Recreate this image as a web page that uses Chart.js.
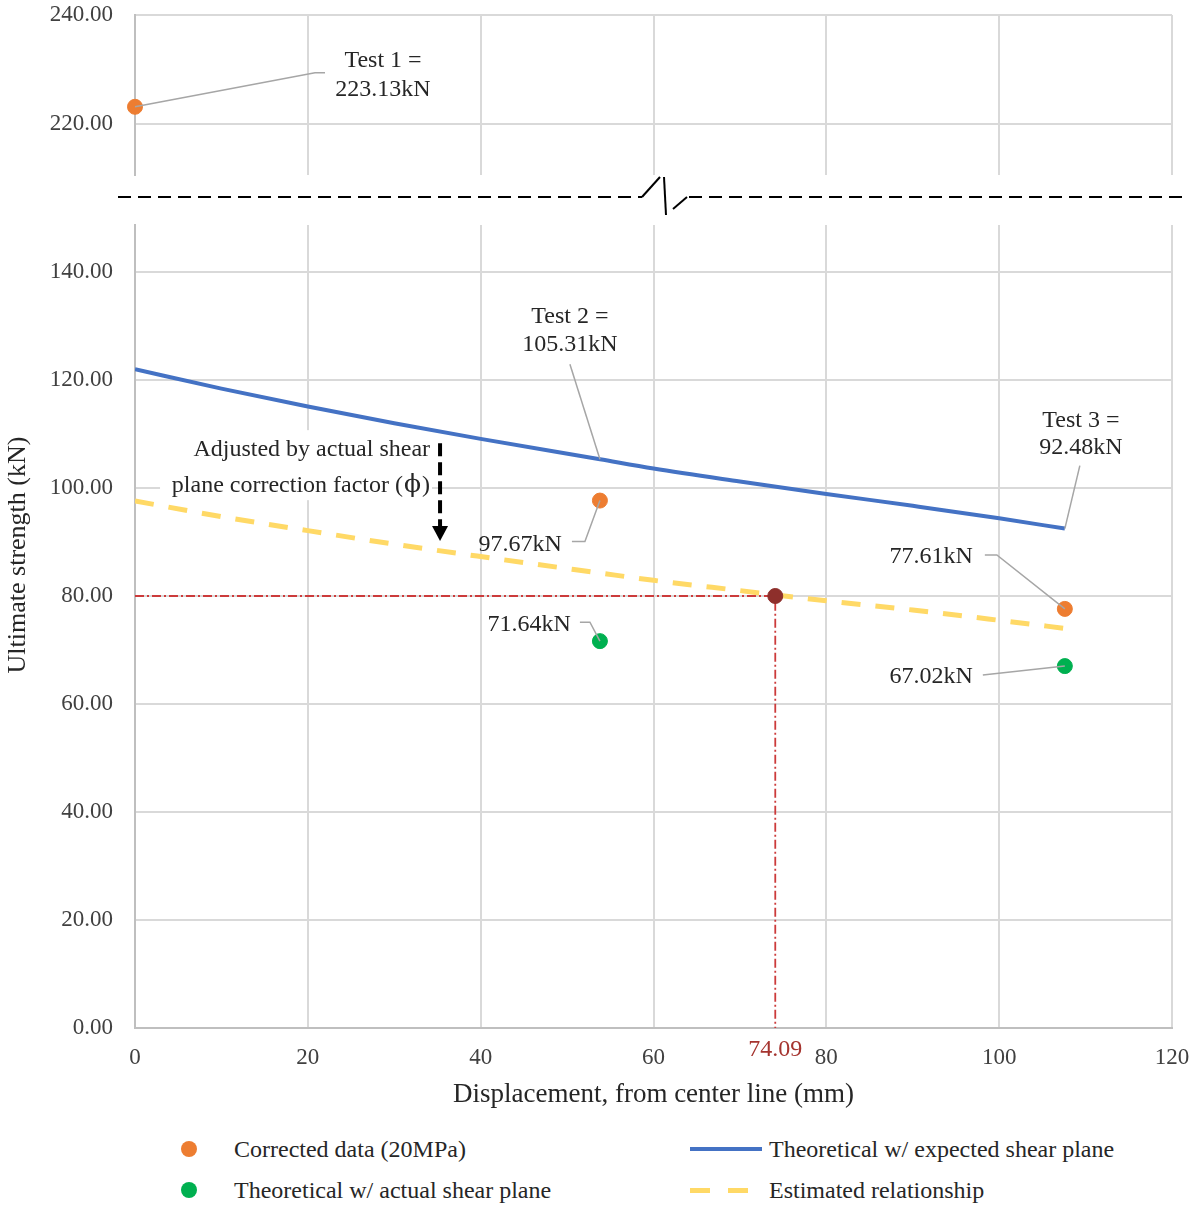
<!DOCTYPE html>
<html>
<head>
<meta charset="utf-8">
<script src="https://cdn.jsdelivr.net/npm/chart.js@4.4.1/dist/chart.umd.min.js"></script>
<style>
  body { margin: 0; background: #fff; width: 1192px; height: 1207px; position: relative; overflow: hidden; font-family: "Liberation Serif", "Times New Roman", serif; }
  canvas { position: absolute; left: 0; }
  #topChart { top: 0; }
  #bottomChart { top: 200px; }
  .leg { position: absolute; font-size: 24px; line-height: 28px; color: #262626; white-space: nowrap; }
  .dot { position: absolute; width: 16px; height: 16px; border-radius: 50%; }
  .bar { position: absolute; }
</style>
</head>
<body>
<canvas id="topChart" width="1192" height="220"></canvas>
<canvas id="bottomChart" width="1192" height="920"></canvas>

<div class="dot" style="left:181px;top:1141px;background:#ED7D31"></div>
<div class="leg" style="left:234px;top:1135px">Corrected data (20MPa)</div>
<div class="dot" style="left:181px;top:1182px;background:#00B050"></div>
<div class="leg" style="left:234px;top:1176px">Theoretical w/ actual shear plane</div>
<div class="bar" style="left:690px;top:1147px;width:72px;height:4px;background:#4472C4"></div>
<div class="leg" style="left:769px;top:1135px">Theoretical w/ expected shear plane</div>
<div class="bar" style="left:690px;top:1188px;width:20px;height:5px;background:#FFD966"></div>
<div class="bar" style="left:728px;top:1188px;width:20px;height:5px;background:#FFD966"></div>
<div class="leg" style="left:769px;top:1176px">Estimated relationship</div>

<script>
// data
const correctedX = [0, 53.8, 107.6];
const correctedY = [223.13, 97.67, 77.61];
const actualX = [53.8, 107.6];
const actualY = [71.64, 67.02];
const curveX = [0, 10, 20, 30, 40, 53.8, 60, 70, 80, 90, 100, 107.6];
const expectedY = [122.0, 118.4, 115.1, 112.0, 109.1, 105.31, 103.6, 101.2, 98.9, 96.7, 94.4, 92.48];
const estimatedY = [97.6, 94.7, 92.1, 89.6, 87.3, 84.25, 82.9, 81.0, 79.1, 77.4, 75.5, 74.0];
const targetX = 74.09;
const targetY = 80;
const xTicks = [0, 20, 40, 60, 80, 100, 120];
const yTicksLower = [0, 20, 40, 60, 80, 100, 120, 140];
const yTicksUpper = [220, 240];

const ORANGE = '#ED7D31', GREEN = '#00B050', BLUE = '#4472C4', YELLOW = '#FFD966';
const DARKRED = '#8E2F2B', RED = '#CC3B3B', GRID = '#D9D9D9', AXIS = '#BFBFBF';
const SERIF = '"Liberation Serif", "Times New Roman", serif';
const TEXT = '#262626';

const pts = (xs, ys) => xs.map((x, i) => ({ x: x, y: ys[i] }));
const kN = v => v.toFixed(2) + 'kN';

function makeDatasets() {
  return [
    { data: pts(correctedX, correctedY), backgroundColor: ORANGE, borderColor: ORANGE, pointRadius: 7.5, showLine: false, clip: 12, order: 0 },
    { data: pts(actualX, actualY), backgroundColor: GREEN, borderColor: GREEN, pointRadius: 7.5, showLine: false, clip: 12, order: 0 },
    { data: [{ x: targetX, y: targetY }], backgroundColor: DARKRED, borderColor: DARKRED, pointRadius: 7.5, showLine: false, order: 0 },
    { data: pts(curveX, estimatedY), showLine: true, borderColor: YELLOW, borderWidth: 5, borderDash: [19, 15], pointRadius: 0, cubicInterpolationMode: 'monotone', order: 2 },
    { data: [{ x: 0, y: targetY }, { x: targetX, y: targetY }, { x: targetX, y: 0 }], showLine: true, borderColor: RED, borderWidth: 1.8, borderDash: [9, 3, 2, 3], pointRadius: 0, order: 3 },
    { data: pts(curveX, expectedY), showLine: true, borderColor: BLUE, borderWidth: 4, pointRadius: 0, cubicInterpolationMode: 'monotone', order: 1 }
  ];
}

// callouts: anchor from data, text and leader as pixel offsets
const callouts = [
  { panel: 'top', x: correctedX[0], y: correctedY[0], lines: ['Test 1 =', kN(correctedY[0])], align: 'center', tx: 248, ty: [-46, -17], leader: [[190, -34], [180, -34], [0, 0]] },
  { panel: 'bottom', x: curveX[5], y: expectedY[5], lines: ['Test 2 =', kN(expectedY[5])], align: 'center', tx: -30, ty: [-143, -115], leader: [[-30, -95], [0, 0]] },
  { panel: 'bottom', x: curveX[11], y: expectedY[11], lines: ['Test 3 =', kN(expectedY[11])], align: 'center', tx: 16, ty: [-108, -81], leader: [[15, -63], [0, 0]] },
  { panel: 'bottom', x: correctedX[1], y: correctedY[1], lines: [kN(correctedY[1])], align: 'right', tx: -38, ty: [44], leader: [[-28, 41], [-15, 41], [0, 0]] },
  { panel: 'bottom', x: actualX[0], y: actualY[0], lines: [kN(actualY[0])], align: 'right', tx: -29, ty: [-16], leader: [[-20, -19], [-10, -19], [0, 0]] },
  { panel: 'bottom', x: correctedX[2], y: correctedY[2], lines: [kN(correctedY[2])], align: 'right', tx: -92, ty: [-52], leader: [[-80, -54], [-68, -54], [0, 0]] },
  { panel: 'bottom', x: actualX[1], y: actualY[1], lines: [kN(actualY[1])], align: 'right', tx: -92, ty: [11], leader: [[-82, 9], [0, 0]] }
];

const calloutPlugin = {
  id: 'callouts',
  afterDatasetsDraw(chart) {
    const ctx = chart.ctx, xs = chart.scales.x, ys = chart.scales.y;
    const panel = chart.canvas.id === 'topChart' ? 'top' : 'bottom';
    ctx.save();
    callouts.filter(c => c.panel === panel).forEach(c => {
      const px = xs.getPixelForValue(c.x), py = ys.getPixelForValue(c.y);
      ctx.strokeStyle = '#A6A6A6';
      ctx.lineWidth = 1.5;
      ctx.beginPath();
      c.leader.forEach((p, i) => i ? ctx.lineTo(px + p[0], py + p[1]) : ctx.moveTo(px + p[0], py + p[1]));
      ctx.stroke();
      ctx.fillStyle = TEXT;
      ctx.font = '24px ' + SERIF;
      ctx.textAlign = c.align;
      ctx.textBaseline = 'middle';
      c.lines.forEach((t, i) => ctx.fillText(t, px + c.tx, py + c.ty[i]));
    });
    ctx.restore();
  }
};

const breakPlugin = {
  id: 'axisBreak',
  afterDraw(chart) {
    const ctx = chart.ctx, y = chart.chartArea.bottom + 22;
    ctx.save();
    ctx.strokeStyle = '#000';
    ctx.lineWidth = 2;
    ctx.setLineDash([13, 7]);
    ctx.beginPath(); ctx.moveTo(118, y); ctx.lineTo(642, y); ctx.stroke();
    ctx.beginPath(); ctx.moveTo(689, y); ctx.lineTo(1185, y); ctx.stroke();
    ctx.setLineDash([]);
    ctx.beginPath(); ctx.moveTo(642, y); ctx.lineTo(660, y - 20); ctx.stroke();
    ctx.beginPath(); ctx.moveTo(664, y - 20); ctx.lineTo(666, y + 18); ctx.stroke();
    ctx.beginPath(); ctx.moveTo(673, y + 12); ctx.lineTo(687, y); ctx.stroke();
    ctx.restore();
  }
};

const notePlugin = {
  id: 'notes',
  beforeDatasetsDraw(chart) {
    const ctx = chart.ctx, xs = chart.scales.x, ys = chart.scales.y;
    const ax = xs.getPixelForValue(35.3), top = ys.getPixelForValue(108.3);
    ctx.save();
    ctx.fillStyle = '#fff';
    ctx.fillRect(ax - 280, top - 13, 272, 70);
    ctx.restore();
  },
  afterDatasetsDraw(chart) {
    const ctx = chart.ctx, xs = chart.scales.x, ys = chart.scales.y, area = chart.chartArea;
    const ax = xs.getPixelForValue(35.3), top = ys.getPixelForValue(108.3), tip = ys.getPixelForValue(90.2);
    ctx.save();
    ctx.fillStyle = TEXT;
    ctx.textBaseline = 'middle';
    ctx.textAlign = 'left';
    // first line right-aligned, second line with a larger phi
    ctx.font = '24px ' + SERIF;
    const l1 = 'Adjusted by actual shear';
    ctx.fillText(l1, ax - 10 - ctx.measureText(l1).width, top + 7);
    const a = 'plane correction factor (', b = '\u03D5', c = ')';
    const wa = ctx.measureText(a).width, wc = ctx.measureText(c).width;
    ctx.font = '25px "DejaVu Serif", serif';
    const wb = ctx.measureText(b).width;
    let x0 = ax - 10 - wa - wb - wc - 2;
    ctx.font = '24px ' + SERIF;
    ctx.fillText(a, x0, top + 43);
    ctx.font = '25px "DejaVu Serif", serif';
    ctx.fillText(b, x0 + wa + 1, top + 42);
    ctx.font = '24px ' + SERIF;
    ctx.fillText(c, x0 + wa + wb + 2, top + 43);

    ctx.strokeStyle = '#000';
    ctx.lineWidth = 4;
    ctx.setLineDash([13, 6]);
    ctx.beginPath(); ctx.moveTo(ax, top); ctx.lineTo(ax, tip - 15); ctx.stroke();
    ctx.setLineDash([]);
    ctx.fillStyle = '#000';
    ctx.beginPath(); ctx.moveTo(ax - 8, tip - 15); ctx.lineTo(ax + 8, tip - 15); ctx.lineTo(ax, tip); ctx.closePath(); ctx.fill();
    // value of the target on the x axis
    ctx.fillStyle = '#A5342F';
    ctx.textAlign = 'center';
    ctx.fillText(targetX.toFixed(2), xs.getPixelForValue(targetX), area.bottom + 22);
    // y axis title
    ctx.fillStyle = TEXT;
    ctx.font = '26px ' + SERIF;
    ctx.translate(18, 355);
    ctx.rotate(-Math.PI / 2);
    ctx.fillText('Ultimate strength (kN)', 0, 0);
    ctx.restore();
  }
};

function yScale(min, max, ticks) {
  return {
    type: 'linear', min: min, max: max,
    afterBuildTicks: s => { s.ticks = ticks.map(v => ({ value: v })); },
    afterFit: s => { s.width = 135; s.paddingTop = 0; s.paddingBottom = 0; },
    ticks: { font: { family: SERIF, size: 23 }, color: '#404040', padding: 22, callback: v => v.toFixed(2) },
    grid: { color: GRID, lineWidth: 2, drawTicks: false },
    border: { color: AXIS, width: 2 }
  };
}

function xScale(showLabels) {
  return {
    type: 'linear', min: 0, max: 120,
    afterBuildTicks: s => { s.ticks = xTicks.map(v => ({ value: v })); },
    afterFit: s => { s.height = showLabels ? 92 : 45; s.paddingLeft = 0; s.paddingRight = 0; },
    ticks: { display: showLabels, font: { family: SERIF, size: 23 }, color: '#404040', padding: 16, callback: v => String(v) },
    grid: { color: GRID, lineWidth: 2, drawTicks: false },
    border: { display: showLabels, color: AXIS, width: 2 },
    title: { display: showLabels, text: 'Displacement, from center line (mm)', font: { family: SERIF, size: 27 }, color: TEXT, padding: { top: 0, bottom: 9 } }
  };
}

const common = {
  responsive: false,
  animation: false,
  plugins: { legend: { display: false }, tooltip: { enabled: false } }
};

new Chart(document.getElementById('topChart'), {
  type: 'scatter',
  data: { datasets: makeDatasets() },
  options: Object.assign({}, common, {
    layout: { padding: { top: 15, right: 20, left: 0, bottom: 0 } },
    scales: { x: xScale(false), y: yScale(210.6, 240, yTicksUpper) }
  }),
  plugins: [calloutPlugin, breakPlugin]
});

new Chart(document.getElementById('bottomChart'), {
  type: 'scatter',
  data: { datasets: makeDatasets() },
  options: Object.assign({}, common, {
    layout: { padding: { top: 25, right: 20, left: 0, bottom: 0 } },
    scales: { x: xScale(true), y: yScale(0, 148.7, yTicksLower) }
  }),
  plugins: [notePlugin, calloutPlugin]
});
</script>
</body>
</html>
